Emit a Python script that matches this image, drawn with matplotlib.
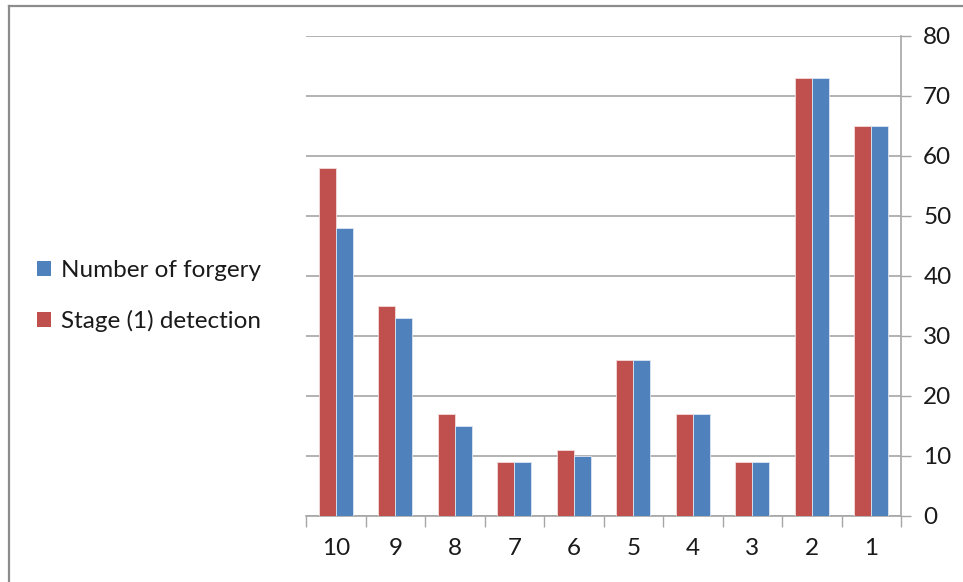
import matplotlib
matplotlib.use("Agg")
import matplotlib.pyplot as plt
import numpy as np
from matplotlib.patches import Patch
from matplotlib.lines import Line2D

categories = ["10", "9", "8", "7", "6", "5", "4", "3", "2", "1"]
stage1_detection = [58, 35, 17, 9, 11, 26, 17, 9, 73, 65]
number_of_forgery = [48, 33, 15, 9, 10, 26, 17, 9, 73, 65]
y_ticks = [0, 10, 20, 30, 40, 50, 60, 70, 80]

RED = "#C0504D"
BLUE = "#4F81BD"
GRID = "#A6A6A6"
FS = 17.5

plt.rcParams["font.family"] = ["Lato", "DejaVu Sans"]

W, H = 963, 582
fig = plt.figure(figsize=(W / 100, H / 100), dpi=100)
ax = fig.add_axes([306 / W, 1 - 516 / H, (901 - 306) / W, (516 - 36) / H])

x = np.arange(len(categories))
bw = 1 / 3.5
ax.bar(x - bw / 2, stage1_detection, width=bw, color=RED,
       edgecolor="#F2DCDB", linewidth=0.6, zorder=3)
ax.bar(x + bw / 2, number_of_forgery, width=bw, color=BLUE,
       edgecolor="#DCE6F2", linewidth=0.6, zorder=3)

ax.set_xlim(-0.5, len(categories) - 0.5)
ax.set_ylim(0, 80)

# value axis on the right
ax.yaxis.tick_right()
ax.set_yticks(y_ticks)
ax.tick_params(axis="y", length=7, width=1, color=GRID, labelsize=FS,
               pad=9, labelcolor="#1a1a1a")
ax.yaxis.grid(True, color=GRID, linewidth=1.2, zorder=0)
ax.set_axisbelow(True)

# category axis: tick marks between categories, labels centred
ax.set_xticks(x)
ax.set_xticklabels(categories)
ax.set_xticks(np.arange(-0.5, len(categories)), minor=True)
ax.tick_params(axis="x", which="major", length=0, labelsize=FS, pad=16,
               labelcolor="#1a1a1a")
ax.tick_params(axis="x", which="minor", length=8, width=1, color=GRID)

for side in ["top", "left"]:
    ax.spines[side].set_visible(False)
for side in ["bottom", "right"]:
    ax.spines[side].set_color(GRID)
    ax.spines[side].set_linewidth(1.2)

handles = [Patch(facecolor=BLUE, label="Number of forgery"),
           Patch(facecolor=RED, label="Stage (1) detection")]
fig.legend(handles=handles, loc="center left",
           bbox_to_anchor=(15 / W, 1 - 296 / H), frameon=False,
           fontsize=FS, handlelength=0.6, handleheight=0.6,
           handletextpad=0.4, labelspacing=1.2, labelcolor="#1a1a1a")

# chart frame
fig.add_artist(Line2D([9 / W, 9 / W], [0, 1 - 6 / H], color="#8C8C8C",
                      linewidth=1.6, transform=fig.transFigure))
fig.add_artist(Line2D([9 / W, 1], [1 - 6 / H, 1 - 6 / H], color="#8C8C8C",
                      linewidth=1.6, transform=fig.transFigure))

fig.savefig("out.png", dpi=100)
